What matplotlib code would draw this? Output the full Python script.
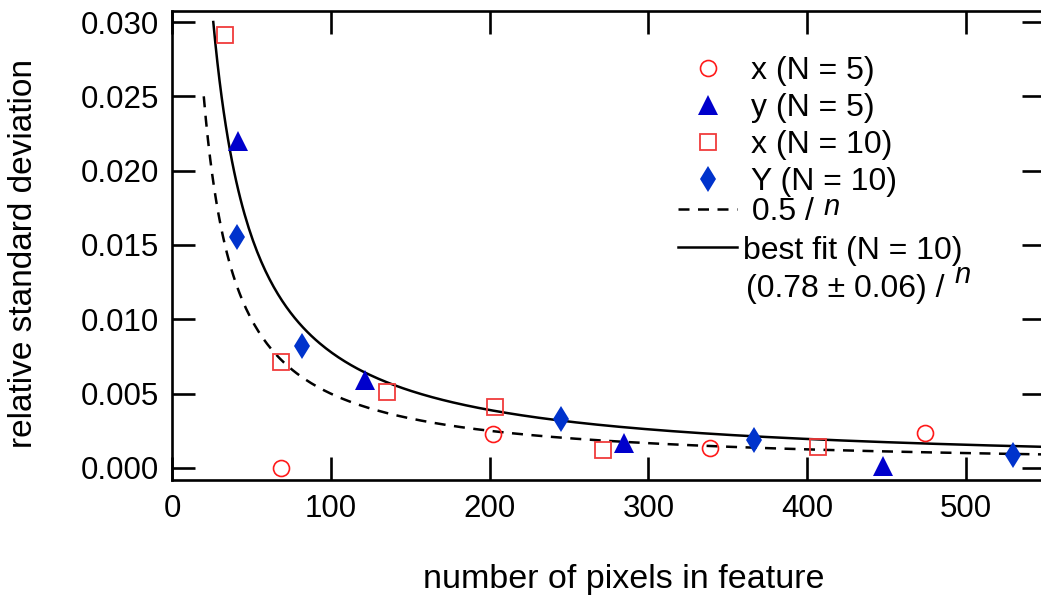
import numpy as np
import matplotlib.pyplot as plt

plt.rcParams['font.family'] = ['Liberation Sans', 'DejaVu Sans']

# x (N = 5)
x5_n = [68.6, 202, 339, 474]
x5_s = [0.0000, 0.0023, 0.00135, 0.00235]
# y (N = 5)
y5_n = [41.6, 121.5, 284.6, 447.7]
y5_s = [0.0220, 0.0059, 0.00170, 0.0001]
# x (N = 10)
x10_n = [33.4, 68.6, 135.4, 203.4, 271.4, 406.8]
x10_s = [0.0291, 0.00713, 0.0051, 0.0041, 0.0012, 0.0014]
# Y (N = 10)
Y10_n = [40.9, 81.9, 245, 366.5, 529.6]
Y10_s = [0.01554, 0.0082, 0.0033, 0.0019, 0.00087]

theory_coef = 0.5
fit_coef = 0.78
H = 596  # figure height in px

fig = plt.figure(figsize=(10.41, 5.96), dpi=100)
ax = fig.add_axes([172/1041, 1 - 480/H, 873.4/1041, 469/H])

n_th = np.linspace(20, 550, 400)
n_fit = np.linspace(26, 550, 400)
l_th, = ax.plot(n_th, theory_coef / n_th, 'k--', lw=1.8, dashes=(4.4, 3.4))
l_fit, = ax.plot(n_fit, fit_coef / n_fit, 'k-', lw=1.8)

m1, = ax.plot(x5_n, x5_s, 'o', ms=11.5, mfc='none', mec='#ff1a1a', mew=1.2)
m2, = ax.plot(y5_n, y5_s, '^', ms=14.5, color='#0000cc', mew=0)
m3, = ax.plot(x10_n, x10_s, 's', ms=11, mfc='none', mec='#f03c3c', mew=1.3)
m4, = ax.plot(Y10_n, Y10_s, 'd', ms=13.5, color='#0033cc', mew=0)

ax.set_xlim(0, 550)
ax.set_ylim(-0.00081, 0.03074)
ax.set_xticks([0, 100, 200, 300, 400, 500])
ax.set_yticks([0, 0.005, 0.010, 0.015, 0.020, 0.025, 0.030])
ax.set_yticklabels(['0.000', '0.005', '0.010', '0.015', '0.020', '0.025', '0.030'])
ax.tick_params(direction='in', length=16.5, width=1.9, labelsize=22.5,
               top=True, right=True)
ax.tick_params(axis='y', pad=9)
ax.tick_params(axis='x', pad=10)
for side in ['left', 'bottom', 'top']:
    ax.spines[side].set_linewidth(1.9)
ax.spines['right'].set_visible(False)

ax.set_xlabel('number of pixels in feature', fontsize=24.5, va='baseline')
ax.set_ylabel('relative standard deviation', fontsize=24)
ax.xaxis.set_label_coords(0.5175, -0.2303)
ax.yaxis.set_label_coords(-0.152, 0.482)

leg1 = ax.legend([m1, m2, m3, m4], ['x (N = 5)', 'y (N = 5)', 'x (N = 10)', 'Y (N = 10)'],
                 loc='upper left', bbox_to_anchor=(678/1041, 1 - 52/H),
                 bbox_transform=fig.transFigure, frameon=False, fontsize=23,
                 borderpad=0, borderaxespad=0, handlelength=1.85,
                 handletextpad=0.42, labelspacing=0.22)
ax.add_artist(leg1)
leg2 = ax.legend([l_th, l_fit], [' 0.5 /', 'best fit (N = 10)'],
                 loc='upper left', bbox_to_anchor=(678/1041, 1 - 195/H),
                 bbox_transform=fig.transFigure, frameon=False, fontsize=23,
                 borderpad=0, borderaxespad=0, handlelength=1.85,
                 handletextpad=0.2, labelspacing=0.27)

# shift each legend so its first row sits where the reference has it
fig.canvas.draw()
for leg, target in [(leg1, 71), (leg2, 212)]:
    bb = leg.get_texts()[0].get_window_extent()
    cy = (bb.y0 + bb.y1) / 2
    old = leg.get_bbox_to_anchor()
    dy = (H - target) - cy
    leg.set_bbox_to_anchor((old.x0/1041, (old.y0 + dy)/H), transform=fig.transFigure)
fig.canvas.draw()

# second line of the fit label and the italic n after both curve labels
t_th, t_fit = leg2.get_texts()
b_th = t_th.get_window_extent()
b_fit = t_fit.get_window_extent()
base_th = b_th.y0 + 7
base_fit = b_fit.y0 + 7
line2 = fig.text(b_fit.x0 + 3, base_fit - 38, '(0.78 ± 0.06) /', fontsize=23,
                 transform=None, va='baseline')
fig.canvas.draw()
b2 = line2.get_window_extent()
fig.text(b_th.x1 + 9, base_th + 5, 'n', fontsize=21, style='italic',
         transform=None, va='baseline')
fig.text(b2.x1 + 10, base_fit - 38 + 14, 'n', fontsize=21, style='italic',
         transform=None, va='baseline')

fig.savefig('out.png', dpi=100)
